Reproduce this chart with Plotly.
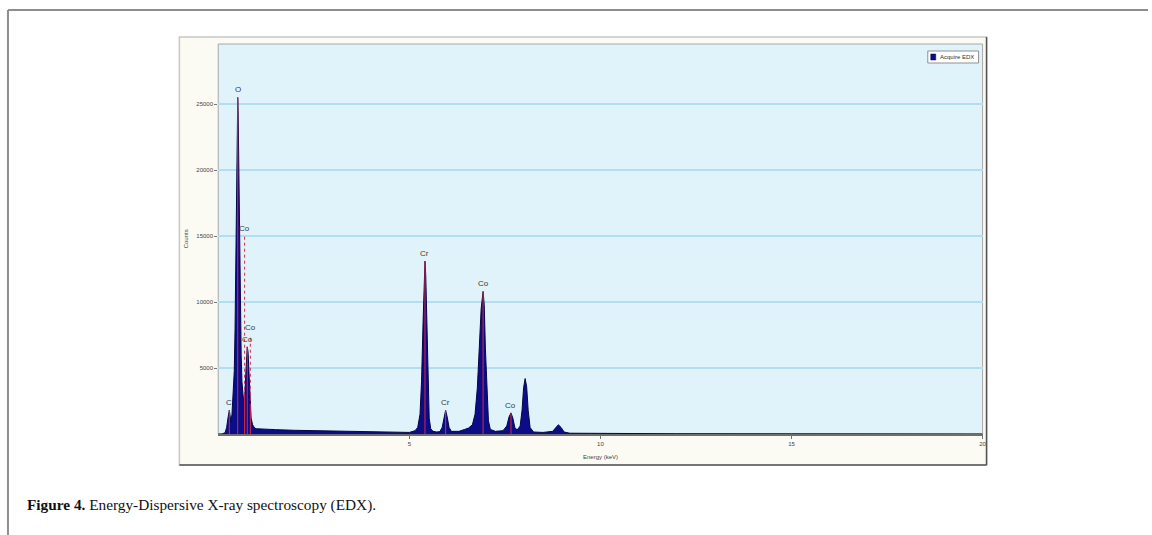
import numpy as np
import plotly.graph_objects as go

# EDX spectrum (energy in keV, counts)
energy_kev = [
    0.00, 0.10, 0.18, 0.22, 0.26, 0.29, 0.31, 0.33, 0.36, 0.39, 0.42, 0.44,
    0.46, 0.48, 0.50, 0.51, 0.52, 0.54, 0.56, 0.58, 0.60, 0.62, 0.64, 0.66,
    0.68, 0.70, 0.72, 0.74, 0.76, 0.78, 0.80, 0.83, 0.86, 0.90, 0.95, 1.00,
    1.20, 1.50, 2.00, 2.50, 3.00, 3.50, 4.00, 4.50, 5.00, 5.15, 5.22, 5.28,
    5.32, 5.36, 5.39, 5.41, 5.43, 5.46, 5.49, 5.52, 5.56, 5.62, 5.72, 5.80,
    5.86, 5.91, 5.95, 5.99, 6.04, 6.10, 6.30, 6.45, 6.55, 6.65, 6.72, 6.78,
    6.83, 6.88, 6.93, 6.96, 6.99, 7.03, 7.07, 7.12, 7.25, 7.45, 7.55, 7.61,
    7.66, 7.71, 7.76, 7.82, 7.90, 7.95, 7.99, 8.03, 8.07, 8.11, 8.16, 8.25,
    8.50, 8.75, 8.83, 8.90, 8.97, 9.05, 9.20, 10.0, 11.0, 12.0, 15.0, 20.0,
]
counts = [
    0, 0, 100, 500, 1300, 1800, 1400, 900, 1500, 2800, 4800, 8000,
    12500, 19000, 24500, 25500, 24500, 19000, 14000, 9000, 6000, 4000, 3000, 2600,
    2600, 3200, 4500, 6000, 6600, 6200, 4800, 2500, 1200, 700, 450, 400,
    350, 330, 280, 250, 200, 170, 130, 110, 120, 250, 500, 1500,
    4000, 8500, 12000, 13100, 12000, 7500, 3500, 1200, 400, 200, 150, 180,
    500, 1300, 1800, 1300, 500, 200, 200, 350, 450, 700, 1500, 3500,
    6500, 9500, 10800, 9800, 6500, 3000, 1000, 350, 200, 250, 600, 1300,
    1600, 1200, 500, 300, 600, 1800, 3500, 4200, 3600, 1800, 500, 150,
    120, 200, 500, 700, 500, 150, 60, 40, 30, 20, 10, 0,
]

# Element identification markers
label_text = ["C", "O", "Co", "Co", "Co", "Cr", "Cr", "Co", "Co"]
label_kev = [0.29, 0.51, 0.69, 0.76, 0.84, 5.41, 5.95, 6.93, 7.66]
label_counts = [1800, 25500, 15000, 6600, 7500, 13100, 1800, 10800, 1600]

x_ticks = [5, 10, 15, 20]
y_ticks = [5000, 10000, 15000, 20000, 25000]
series_name = "Acquire EDX"

W, H = 1152, 535


def px(x):
    return x / W


def py(y):
    return 1 - y / H


fig = go.Figure()

# Spectrum
fig.add_trace(go.Scatter(
    x=energy_kev, y=counts, mode="lines", fill="tozeroy",
    fillcolor="#0c0c88", line=dict(color="#05054a", width=1),
    hoverinfo="skip", showlegend=False,
))

# Marker lines: solid inside the peak, dotted above it up to the label
spec_at = np.interp(label_kev, energy_kev, counts)
for e, h, s in zip(label_kev, label_counts, spec_at):
    top_solid = min(h, s)
    fig.add_trace(go.Scatter(
        x=[e, e], y=[0, top_solid], mode="lines",
        line=dict(color="#e0283e", width=1), hoverinfo="skip", showlegend=False,
    ))
    if h > s + 50:
        fig.add_trace(go.Scatter(
            x=[e, e], y=[s, h], mode="lines",
            line=dict(color="#e0283e", width=1, dash="dot"),
            hoverinfo="skip", showlegend=False,
        ))

for t, e, h in zip(label_text, label_kev, label_counts):
    fig.add_annotation(
        x=e, y=h, text=t, showarrow=False, xanchor="center", yanchor="bottom",
        yshift=1, font=dict(family="Liberation Sans", size=8, color="#3a3a3a"),
    )

shapes = [
    # page frame
    dict(type="line", xref="paper", yref="paper", x0=px(8), x1=px(1152),
         y0=py(10), y1=py(10), line=dict(color="#8e8e8e", width=2)),
    dict(type="line", xref="paper", yref="paper", x0=px(8), x1=px(8),
         y0=py(10), y1=py(535), line=dict(color="#8e8e8e", width=2)),
    # chart panel
    dict(type="rect", xref="paper", yref="paper", x0=px(180), x1=px(990),
         y0=py(465), y1=py(37), fillcolor="#fbfbf3",
         line=dict(color="#c8c8c8", width=1.5), layer="below"),
    dict(type="line", xref="paper", yref="paper", x0=px(990), x1=px(990),
         y0=py(465), y1=py(37), line=dict(color="#555555", width=1.5)),
    dict(type="line", xref="paper", yref="paper", x0=px(180), x1=px(990),
         y0=py(465), y1=py(465), line=dict(color="#555555", width=1.5)),
    # plotting area
    dict(type="rect", xref="paper", yref="paper", x0=px(219), x1=px(986),
         y0=py(434), y1=py(44), fillcolor="#e0f2fa",
         line=dict(color="#a8a8a8", width=1), layer="below"),
    # legend box
    dict(type="rect", xref="paper", yref="paper", x0=px(931), x1=px(982),
         y0=py(63), y1=py(51), fillcolor="#ffffff",
         line=dict(color="#909090", width=1)),
    dict(type="rect", xref="paper", yref="paper", x0=px(934), x1=px(939),
         y0=py(60), y1=py(54), fillcolor="#0c0c88",
         line=dict(color="#05054a", width=0.5)),
]

annotations = [
    dict(x=px(941), y=py(57), xref="paper", yref="paper", text=series_name,
         showarrow=False, xanchor="left", yanchor="middle",
         font=dict(family="Liberation Sans", size=6, color="#333333")),
    dict(x=px(187), y=py(239), xref="paper", yref="paper", text="Counts",
         showarrow=False, textangle=-90, xanchor="center", yanchor="middle",
         font=dict(family="Liberation Sans", size=6, color="#444444")),
    dict(x=px(603), y=py(457), xref="paper", yref="paper", text="Energy (keV)",
         showarrow=False, xanchor="center", yanchor="middle",
         font=dict(family="Liberation Sans", size=6, color="#444444")),
    dict(x=px(25), y=py(505), xref="paper", yref="paper",
         text="<b>Figure 4.</b> Energy-Dispersive X-ray spectroscopy (EDX).",
         showarrow=False, xanchor="left", yanchor="middle",
         font=dict(family="Liberation Serif", size=15.3, color="#111111")),
]

fig.update_layout(
    width=W, height=H, margin=dict(l=0, r=0, t=0, b=0),
    paper_bgcolor="#ffffff", plot_bgcolor="rgba(0,0,0,0)",
    shapes=shapes, annotations=fig.layout.annotations + tuple(annotations),
    showlegend=False,
    xaxis=dict(
        domain=[px(219), px(986)], range=[0, 20], tickvals=x_ticks,
        ticktext=[str(v) for v in x_ticks],
        ticks="outside", ticklen=3, tickcolor="#777777", showgrid=False,
        zeroline=False, showline=True, linecolor="#6e6e6e", linewidth=1.5,
        tickfont=dict(family="Liberation Sans", size=6, color="#444444"),
    ),
    yaxis=dict(
        domain=[py(434), py(44)], range=[0, 29550], tickvals=y_ticks,
        ticktext=[str(v) for v in y_ticks],
        ticks="outside", ticklen=3, tickcolor="#777777", showgrid=True,
        gridcolor="#b3ddf0", gridwidth=1.5, zeroline=False, showline=False,
        tickfont=dict(family="Liberation Sans", size=6, color="#444444"),
    ),
)

fig.write_html("out.html")
